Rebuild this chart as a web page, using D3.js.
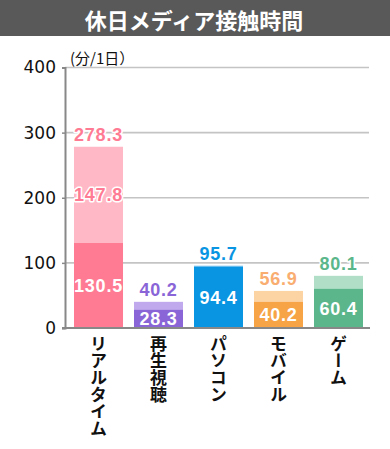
<!DOCTYPE html>
<html>
<head>
<meta charset="utf-8">
<script src="https://cdn.jsdelivr.net/npm/d3@7"></script>
<style>
  body { margin: 0; background: white; }
</style>
</head>
<body>
<script>
const FONT_JP = '"Noto Sans CJK JP", "Noto Sans", sans-serif'
const FONT_NUM = '"Liberation Sans", Arial, sans-serif'

// data
const categories = ['リアルタイム', '再生視聴', 'パソコン', 'モバイル', 'ゲーム']
const lowerValues = [130.5, 28.3, 94.4, 40.2, 60.4]
const totalValues = [278.3, 40.2, 95.7, 56.9, 80.1]
const yTicks = [0, 100, 200, 300, 400]

const darkColors = ['#ff7b93', '#8965d7', '#0a95e2', '#f6a446', '#5bb78b']
const lightColors = ['#ffb9c6', '#c0aaed', '#80c5f0', '#fcd3a2', '#b1dec7']
const labelColors = ['#ff7b93', '#8965d7', '#0a95e2', '#f9ad70', '#5bb78b']

const width = 390, height = 449

const svg = d3.select('body').append('svg')
    .attr('width', width).attr('height', height)

//title bar
svg.append('rect').attr('x', 0).attr('y', 0).attr('width', width).attr('height', 36).attr('fill', '#595959')
svg.append('text').text('休日メディア接触時間')
    .attr('x', 194).attr('y', 19).attr('fill', 'white')
    .attr('font-family', FONT_JP).attr('font-weight', 'bold').attr('font-size', 22)
    .attr('text-anchor', 'middle').attr('dominant-baseline', 'central')

//unit
svg.append('text').text('(分/1日）')
    .attr('x', 70).attr('y', 64).attr('fill', '#111')
    .attr('font-family', FONT_JP).attr('font-size', 15)

const y = d3.scaleLinear().domain([0, 400]).range([328, 67.5])
const x = d3.scaleBand().domain(categories).range([64, 373]).paddingInner(0.1833).paddingOuter(0.1667)

//grid
svg.append('g').selectAll('line').data(yTicks.filter(d => d > 0)).join('line')
    .attr('x1', 65).attr('x2', 369)
    .attr('y1', d => y(d)).attr('y2', d => y(d))
    .attr('stroke', '#c4c4c4').attr('stroke-width', 1.6)

//bars
const bars = svg.append('g').selectAll('g').data(categories).join('g')
bars.append('rect')
    .attr('x', d => x(d)).attr('width', x.bandwidth())
    .attr('y', (d, i) => y(totalValues[i]))
    .attr('height', (d, i) => y(lowerValues[i]) - y(totalValues[i]))
    .attr('fill', (d, i) => lightColors[i])
bars.append('rect')
    .attr('x', d => x(d)).attr('width', x.bandwidth())
    .attr('y', (d, i) => y(lowerValues[i]))
    .attr('height', (d, i) => y(0) - y(lowerValues[i]))
    .attr('fill', (d, i) => darkColors[i])

const numText = sel => sel
    .attr('font-family', FONT_NUM).attr('font-weight', 'bold').attr('font-size', 18)
    .attr('letter-spacing', 0.8).attr('text-anchor', 'middle')

const halo = sel => sel
    .attr('stroke', 'white').attr('stroke-width', 3).attr('stroke-linejoin', 'round')
    .attr('paint-order', 'stroke')

//total labels
bars.append('text').call(numText).call(halo)
    .text((d, i) => totalValues[i].toFixed(1))
    .attr('x', d => x(d) + x.bandwidth() / 2)
    .attr('y', (d, i) => y(totalValues[i]) - 5.5)
    .attr('fill', (d, i) => labelColors[i])

//lower labels
bars.append('text').call(numText)
    .text((d, i) => lowerValues[i].toFixed(1))
    .attr('x', d => x(d) + x.bandwidth() / 2)
    .attr('y', (d, i) => (y(lowerValues[i]) + y(0)) / 2)
    .attr('dy', '0.36em')
    .attr('fill', 'white')

//upper segment label (only where the segment is tall)
bars.filter((d, i) => totalValues[i] - lowerValues[i] > 50)
  .append('text').call(numText).call(halo)
    .text(d => {
        const k = categories.indexOf(d)
        return (totalValues[k] - lowerValues[k]).toFixed(1)
    })
    .attr('x', d => x(d) + x.bandwidth() / 2)
    .attr('y', d => {
        const k = categories.indexOf(d)
        return (y(totalValues[k]) + y(lowerValues[k])) / 2
    })
    .attr('dy', '0.36em')
    .attr('fill', d => labelColors[categories.indexOf(d)])

//y axis
const yAxis = svg.append('g').attr('transform', 'translate(65,0)')
    .call(d3.axisLeft(y).tickValues(yTicks).tickSize(3).tickPadding(6))
yAxis.select('.domain').attr('stroke', '#888').attr('stroke-width', 2)
yAxis.selectAll('.tick line').attr('stroke', '#888').attr('stroke-width', 1.5)
yAxis.selectAll('.tick text').attr('font-family', '"DejaVu Sans", sans-serif').attr('font-size', 17).attr('fill', '#111')

//baseline
svg.append('line').attr('x1', 62).attr('x2', 370).attr('y1', y(0)).attr('y2', y(0))
    .attr('stroke', '#888').attr('stroke-width', 2)

//category labels, vertical
svg.append('g').selectAll('text').data(categories).join('text')
    .text(d => d)
    .attr('x', d => x(d) + x.bandwidth() / 2)
    .attr('y', 335)
    .attr('font-family', FONT_JP).attr('font-weight', 'bold').attr('font-size', 17)
    .attr('fill', '#111')
    .style('writing-mode', 'vertical-rl')
    .style('text-orientation', 'upright')
</script>
</body>
</html>
